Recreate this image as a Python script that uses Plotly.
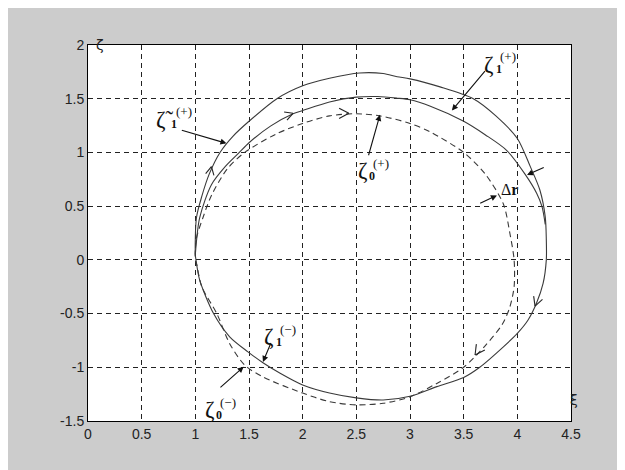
import math
import plotly.graph_objects as go

# ---------------- data ----------------
# outer solid curve  (zeta~1(+) upper branch, joined to zeta1(-) lower branch)
outer_upper_x = [1.00, 1.01, 1.06, 1.13, 1.23, 1.35, 1.50, 1.76, 2.00, 2.25, 2.53, 2.75, 2.88, 3.00, 3.28, 3.59, 3.80, 4.00, 4.12, 4.21, 4.26, 4.27]
outer_upper_y = [0.05, 0.39, 0.59, 0.80, 1.00, 1.15, 1.29, 1.50, 1.62, 1.69, 1.74, 1.735, 1.705, 1.685, 1.61, 1.50, 1.34, 1.13, 0.87, 0.65, 0.40, 0.19]
lower_x = [4.27, 4.24, 4.18, 4.10, 4.00, 3.87, 3.65, 3.50, 3.25, 3.00, 2.75, 2.50, 2.25, 2.00, 1.79, 1.63, 1.49, 1.32, 1.17, 1.04, 1.006, 1.00]
lower_y = [0.00, -0.22, -0.40, -0.56, -0.685, -0.81, -1.00, -1.095, -1.18, -1.27, -1.305, -1.285, -1.24, -1.165, -1.056, -0.958, -0.856, -0.716, -0.50, -0.186, 0.00, 0.05]

# inner solid curve (zeta1(+))
inner_x = [1.00, 1.04, 1.15, 1.28, 1.41, 1.50, 1.70, 1.91, 2.00, 2.25, 2.50, 2.70, 2.88, 3.00, 3.19, 3.50, 3.70, 3.90, 4.07, 4.18, 4.23, 4.26]
inner_y = [0.05, 0.39, 0.70, 0.87, 1.00, 1.09, 1.245, 1.36, 1.39, 1.47, 1.515, 1.52, 1.505, 1.49, 1.43, 1.29, 1.165, 1.02, 0.80, 0.62, 0.495, 0.33]

# dashed curve (zeta0)
dash_x = [1.00, 1.01, 1.07, 1.15, 1.30, 1.46, 1.75, 2.00, 2.25, 2.50, 2.72, 3.00, 3.19, 3.50, 3.70, 3.87, 3.93, 3.97, 3.97, 3.93, 3.86, 3.70, 3.50, 3.25, 3.00, 2.75, 2.50, 2.25, 2.00, 1.63, 1.46, 1.32, 1.20, 1.06, 1.01, 1.00]
dash_y = [0.00, 0.20, 0.39, 0.60, 0.85, 1.00, 1.17, 1.27, 1.34, 1.36, 1.34, 1.27, 1.19, 1.00, 0.80, 0.52, 0.25, 0.00, -0.25, -0.44, -0.60, -0.80, -1.00, -1.15, -1.275, -1.335, -1.35, -1.32, -1.24, -1.09, -0.98, -0.78, -0.50, -0.25, -0.03, 0.00]

# direction chevrons on curves: tip position and heading (degrees)
chev_x = [1.15, 1.91, 2.43, 4.165, 3.606]
chev_y = [0.867, 1.364, 1.364, -0.43, -0.886]
chev_ang = [78, 20, 0, -110, -125]
chev_len = [9, 9, 11, 10, 11]

# axis ticks
x_ticks = [0, 0.5, 1, 1.5, 2, 2.5, 3, 3.5, 4, 4.5]
x_tick_text = ["0", "0.5", "1", "1.5", "2", "2.5", "3", "3.5", "4", "4.5"]
y_ticks = [-1.5, -1, -0.5, 0, 0.5, 1, 1.5, 2]
y_tick_text = ["-1.5", "-1", "-0.5", "0", "0.5", "1", "1.5", "2"]

# pointer arrows: (head x, head y, tail x, tail y)
ptr_head_x = [1.29, 3.39, 2.72, 3.81, 4.09, 1.63, 1.45]
ptr_head_y = [1.085, 1.39, 1.35, 0.60, 0.79, -0.95, -0.995]
ptr_tail_x = [0.86, 3.71, 2.61, 3.64, 4.26, 1.71, 1.22]
ptr_tail_y = [1.21, 1.77, 0.96, 0.52, 0.867, -0.76, -1.20]

# ---------------- figure ----------------
LINE = "#3a3a3a"
fig = go.Figure()
fig.add_trace(go.Scatter(x=outer_upper_x + lower_x, y=outer_upper_y + lower_y, mode="lines",
                         line=dict(color=LINE, width=1.1, shape="spline", smoothing=0.8),
                         hoverinfo="skip", showlegend=False))
fig.add_trace(go.Scatter(x=inner_x, y=inner_y, mode="lines",
                         line=dict(color=LINE, width=1.1, shape="spline", smoothing=0.8),
                         hoverinfo="skip", showlegend=False))
fig.add_trace(go.Scatter(x=dash_x, y=dash_y, mode="lines",
                         line=dict(color=LINE, width=1.1, dash="6px,4px", shape="spline", smoothing=0.8),
                         hoverinfo="skip", showlegend=False))

# chevrons (open V arrowheads)
PX = 1.0 / 107.4  # data units per pixel (equal scale on both axes)
for cx, cy, ang, ln in zip(chev_x, chev_y, chev_ang, chev_len):
    xs, ys = [], []
    for side in (-1, 1):
        a = math.radians(ang + 180 + side * 28)
        xs += [cx + ln * PX * math.cos(a), cx, None]
        ys += [cy + ln * PX * math.sin(a), cy, None]
    fig.add_trace(go.Scatter(x=xs, y=ys, mode="lines", line=dict(color="#222", width=1.1),
                             hoverinfo="skip", showlegend=False))

annotations = []
for hx, hy, tx, ty in zip(ptr_head_x, ptr_head_y, ptr_tail_x, ptr_tail_y):
    annotations.append(dict(x=hx, y=hy, ax=tx, ay=ty, xref="x", yref="y", axref="x", ayref="y",
                            text="", showarrow=True, arrowhead=2, arrowsize=1.1, arrowwidth=1.1,
                            arrowcolor="#111"))

SERIF = "Liberation Serif, Times New Roman, serif"

def label(x, y, main, sub, sup):
    annotations.append(dict(x=x, y=y, xref="x", yref="y", text=main, showarrow=False,
                            font=dict(family=SERIF, size=23, color="#111")))
    annotations.append(dict(x=x + 0.085, y=y - 0.045, xref="x", yref="y", text="<b>" + sub + "</b>",
                            showarrow=False, font=dict(family=SERIF, size=12, color="#111")))
    annotations.append(dict(x=x + 0.17, y=y + 0.07, xref="x", yref="y", text=sup, showarrow=False,
                            font=dict(family=SERIF, size=13, color="#111")))

label(0.72, 1.31, "ζ\u0303", "1", "(+)")
label(3.74, 1.82, "ζ", "1", "(+)")
label(2.56, 0.83, "ζ", "0", "(+)")
label(1.69, -0.715, "ζ", "1", "(−)")
label(1.135, -1.395, "ζ", "0", "(−)")
annotations.append(dict(x=3.925, y=0.655, xref="x", yref="y", text="Δ<b>r</b>", showarrow=False,
                        font=dict(family=SERIF, size=16, color="#111")))

# axis name labels
annotations.append(dict(x=0.012, y=1.027, xref="paper", yref="paper", text="ζ", showarrow=False,
                        font=dict(family="DejaVu Sans", size=14, color="#222")))
annotations.append(dict(x=1.019, y=0.03, xref="paper", yref="paper", text="ξ", showarrow=False,
                        font=dict(family="DejaVu Sans", size=14, color="#222")))

axis_common = dict(showline=True, linecolor="#000", linewidth=1, mirror=True,
                   showgrid=True, gridcolor="#222", gridwidth=1, griddash="5px,4px",
                   zeroline=False, ticks="", tickfont=dict(family="Liberation Sans, Arial", size=14, color="#222"))

fig.update_layout(
    width=625, height=470, autosize=False,
    margin=dict(l=80, r=62, t=37, b=57),
    paper_bgcolor="#cccccc", plot_bgcolor="#ffffff",
    xaxis=dict(range=[0, 4.5], tickvals=x_ticks, ticktext=x_tick_text, **axis_common),
    yaxis=dict(range=[-1.5, 2], tickvals=y_ticks, ticktext=y_tick_text, **axis_common),
    annotations=annotations,
    showlegend=False,
)

fig.write_html("out.html")
